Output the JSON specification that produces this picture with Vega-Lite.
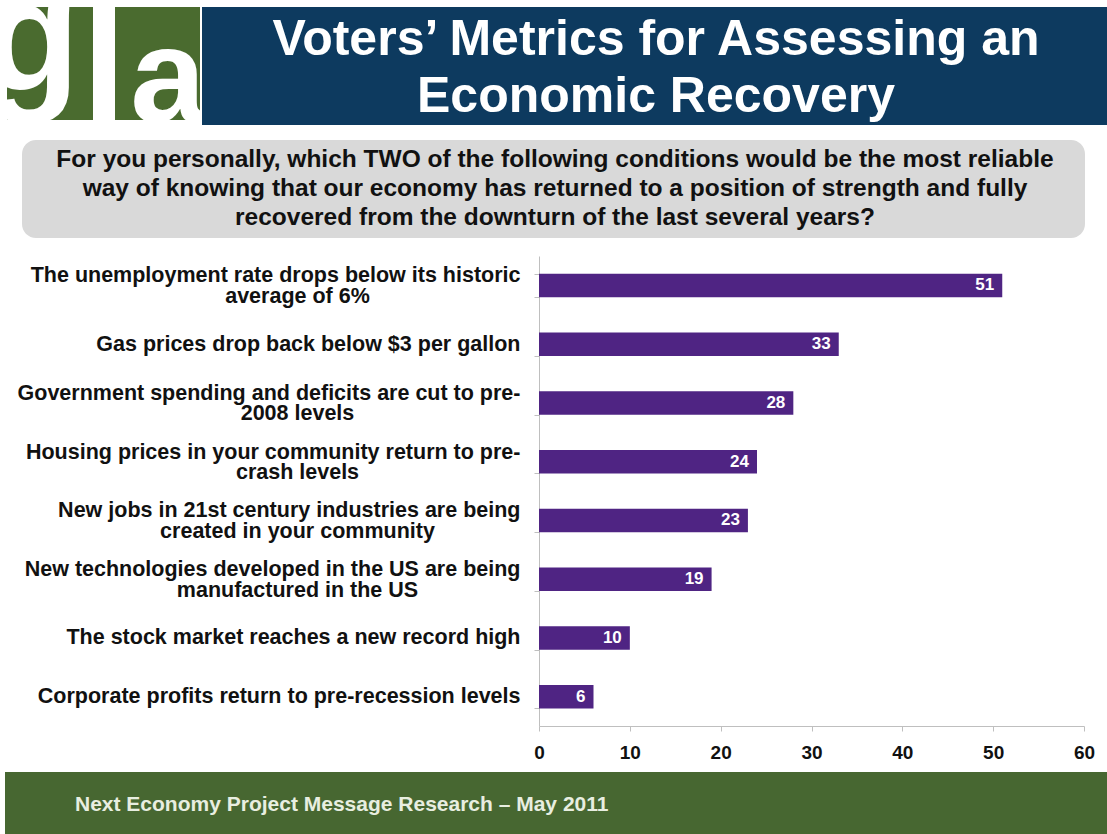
{
  "$schema": "https://vega.github.io/schema/vega-lite/v6.json",
  "width": 545,
  "height": 470,
  "autosize": {"type": "none"},
  "padding": {"left": 539, "top": 256, "right": 23, "bottom": 108},
  "background": "white",
  "config": {"view": {"stroke": null}, "font": "Liberation Sans"},
  "data": {"values": [
    {"label": "The unemployment rate drops below its historic\naverage of 6%", "pct": 51},
    {"label": "Gas prices drop back below $3 per gallon", "pct": 33},
    {"label": "Government spending and deficits are cut to pre-\n2008 levels", "pct": 28},
    {"label": "Housing prices in your community return to pre-\ncrash levels", "pct": 24},
    {"label": "New jobs in 21st century industries are being\ncreated in your community", "pct": 23},
    {"label": "New technologies developed in the US are being\nmanufactured in the US", "pct": 19},
    {"label": "The stock market reaches a new record high", "pct": 10},
    {"label": "Corporate profits return to pre-recession levels", "pct": 6}
  ]},
  "layer": [
    {
      "data": {"values": [{}]},
      "mark": {"type": "rect", "fill": "#4a6b2f"},
      "encoding": {"x": {"value": -532}, "x2": {"value": -446}, "y": {"value": -249}, "y2": {"value": -136}}
    },
    {
      "data": {"values": [{}]},
      "mark": {"type": "rect", "fill": "#4a6b2f"},
      "encoding": {"x": {"value": -424}, "x2": {"value": -339}, "y": {"value": -249}, "y2": {"value": -136}}
    },
    {
      "data": {"values": [{}]},
      "mark": {"type": "text", "text": "g", "font": "Liberation Sans", "fontSize": 160, "fontWeight": "bold", "color": "white", "align": "center", "baseline": "alphabetic"},
      "encoding": {"x": {"value": -508}, "y": {"value": -166}}
    },
    {
      "data": {"values": [{}]},
      "mark": {"type": "text", "text": "a", "font": "Liberation Sans", "fontSize": 136, "fontWeight": "bold", "color": "white", "align": "center", "baseline": "alphabetic"},
      "encoding": {"x": {"value": -371}, "y": {"value": -134}}
    },
    {
      "data": {"values": [{}]},
      "mark": {"type": "rect", "fill": "#0d3a5f"},
      "encoding": {"x": {"value": -337}, "x2": {"value": 568}, "y": {"value": -249}, "y2": {"value": -131}}
    },
    {
      "data": {"values": [{}]},
      "mark": {"type": "text", "text": ["Voters’ Metrics for Assessing an", "Economic Recovery"], "font": "Liberation Sans", "fontSize": 50, "fontWeight": "bold", "color": "white", "align": "center", "baseline": "alphabetic", "lineHeight": 57},
      "encoding": {"x": {"value": 117}, "y": {"value": -201}}
    },
    {
      "data": {"values": [{}]},
      "mark": {"type": "rect", "fill": "#d9d9d9", "cornerRadius": 14},
      "encoding": {"x": {"value": -517}, "x2": {"value": 546}, "y": {"value": -116}, "y2": {"value": -18}}
    },
    {
      "data": {"values": [{}]},
      "mark": {"type": "text", "text": ["For you personally, which TWO of the following conditions would be the most reliable", "way of knowing that our economy has returned to a position of strength and fully", "recovered from the downturn of the last several years?"], "font": "Liberation Sans", "fontSize": 24.5, "fontWeight": "bold", "color": "#111111", "align": "center", "baseline": "middle", "lineHeight": 29},
      "encoding": {"x": {"value": 16}, "y": {"value": -96}}
    },
    {
      "data": {"values": [{}]},
      "mark": {"type": "rect", "fill": "#476731"},
      "encoding": {"x": {"value": -534}, "x2": {"value": 568}, "y": {"value": 516}, "y2": {"value": 578}}
    },
    {
      "data": {"values": [{}]},
      "mark": {"type": "text", "text": "Next Economy Project Message Research – May 2011", "font": "Liberation Sans", "fontSize": 21, "fontWeight": "bold", "color": "#e8eee0", "align": "left", "baseline": "middle"},
      "encoding": {"x": {"value": -464}, "y": {"value": 549}}
    },
    {
      "mark": {"type": "bar", "color": "#4f2483"},
      "encoding": {
        "y": {
          "field": "label", "type": "nominal", "sort": null,
          "scale": {"paddingInner": 0.6, "paddingOuter": 0.3},
          "axis": {
            "orient": "left", "title": null,
            "domainColor": "#bfbfbf", "tickColor": "#bfbfbf", "tickSize": 5, "tickBand": "extent",
            "labelAlign": "right", "labelBaseline": "middle", "labelPadding": 14,
            "labelFontSize": 21.5, "labelFontWeight": "bold", "labelColor": "#111111",
            "labelLimit": 0,
            "labelOffset": {"condition": {"test": "isString(datum.value) && length(split(datum.value, '\\n')) > 1", "value": -9.5}, "value": 0},
            "labelExpr": "isString(datum.value) ? split(datum.value, '\\n')[0] : ''"
          }
        },
        "x": {
          "field": "pct", "type": "quantitative",
          "scale": {"domain": [0, 60], "nice": false},
          "axis": {
            "title": null, "grid": false, "values": [0, 10, 20, 30, 40, 50, 60],
            "domainColor": "#bfbfbf", "tickColor": "#bfbfbf", "tickSize": 5,
            "labelFontSize": 19, "labelFontWeight": "bold", "labelColor": "#111111",
            "labelPadding": 12, "labelFlush": false
          }
        }
      }
    },
    {
      "mark": {"type": "text", "align": "right", "baseline": "middle", "dx": -8, "color": "white", "fontSize": 17, "fontWeight": "bold", "font": "Liberation Sans"},
      "encoding": {
        "y": {
          "field": "label", "type": "nominal", "sort": null,
          "axis": {
            "orient": "left", "title": null, "domain": false, "ticks": false,
            "labelAlign": "center", "labelBaseline": "middle", "labelPadding": 242,
            "labelFontSize": 21.5, "labelFontWeight": "bold", "labelColor": "#111111",
            "labelLimit": 0, "labelOffset": 11.5,
            "labelExpr": "isString(datum.value) && length(split(datum.value, '\\n')) > 1 ? split(datum.value, '\\n')[1] : ''"
          }
        },
        "x": {"field": "pct", "type": "quantitative"},
        "text": {"field": "pct", "type": "quantitative"}
      }
    }
  ],
  "resolve": {"axis": {"y": "independent"}}
}
